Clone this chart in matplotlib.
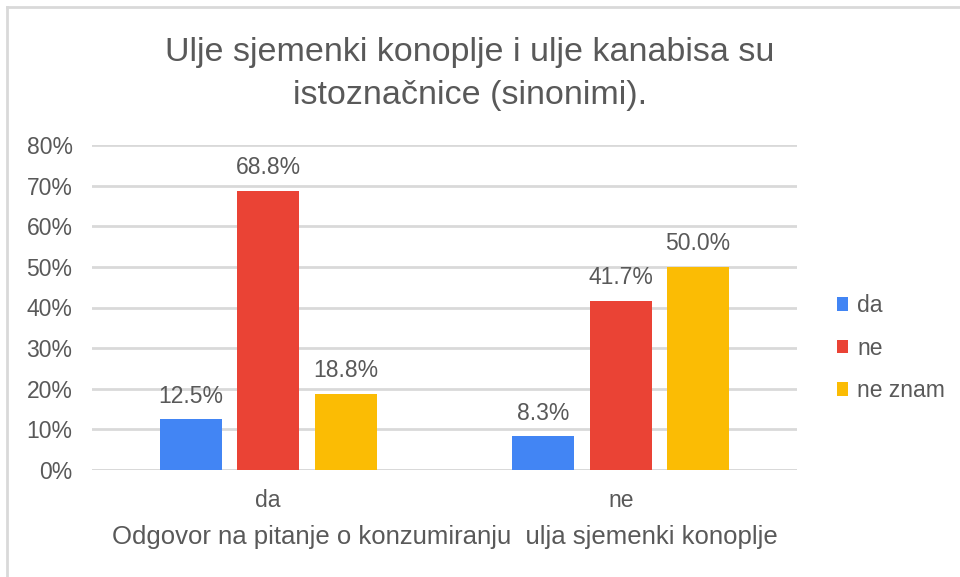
import matplotlib
matplotlib.use("Agg")
import matplotlib.pyplot as plt
import numpy as np

plt.rcParams['font.family'] = ['Liberation Sans', 'DejaVu Sans']

categories = ["da", "ne"]
series_names = ["da", "ne", "ne znam"]
values = {
    "da": [12.5, 8.3],
    "ne": [68.8, 41.7],
    "ne znam": [18.8, 50.0],
}
colors = ["#4285F4", "#EA4335", "#FBBC04"]
title = "Ulje sjemenki konoplje i ulje kanabisa su\nistoznačnice (sinonimi)."
xlabel = "Odgovor na pitanje o konzumiranju  ulja sjemenki konoplje"
yticks = [0, 10, 20, 30, 40, 50, 60, 70, 80]

text_col = "#595959"
grid_col = "#D9D9D9"
fs = 16.5

fig = plt.figure(figsize=(9.6, 5.77), dpi=100)
fig.patch.set_facecolor("white")

# outer chart frame (top and left edges visible)
fig.add_artist(plt.Line2D([7/960, 7/960], [0, 1 - 7/577], transform=fig.transFigure,
                          color="#D9D9D9", lw=2))
fig.add_artist(plt.Line2D([7/960, 1], [1 - 7/577, 1 - 7/577], transform=fig.transFigure,
                          color="#D9D9D9", lw=2))

left, right = 92/960, 797/960
bottom, top = 1 - 470/577, 1 - 145/577
ax = fig.add_axes([left, bottom, right - left, top - bottom])

x = np.arange(len(categories))
bw = 0.1756
step = 0.2195
for i, name in enumerate(series_names):
    xs = x + (i - 1) * step
    ax.bar(xs, values[name], width=bw, color=colors[i], label=name, zorder=3)
    for xi, v in zip(xs, values[name]):
        ax.text(xi, v + 2.8, f"{v:.1f}%", ha="center", va="bottom",
                fontsize=fs, color=text_col, zorder=4)

ax.set_xlim(-0.5, 1.5)
ax.set_ylim(0, 80)
ax.set_yticks(yticks)
ax.set_yticklabels([f"{t}%" for t in yticks])
ax.yaxis.grid(True, color=grid_col, lw=2, zorder=0)
ax.set_axisbelow(True)
for s in ax.spines.values():
    s.set_visible(False)
ax.tick_params(axis="y", length=0, pad=14, labelsize=fs, labelcolor=text_col)
ax.tick_params(axis="x", length=0, pad=14, labelsize=fs, labelcolor=text_col)
ax.set_xticks(x)
ax.set_xticklabels(categories)
ax.set_xlabel(xlabel, fontsize=18.5, color=text_col, labelpad=9)
ax.axhline(0, color=grid_col, lw=2, zorder=2)

fig.text(470/960, 1 - 74/577, title, ha="center", va="center", fontsize=24.5,
         color=text_col, linespacing=1.52)

ax.legend(loc="center left", bbox_to_anchor=(1.027, 0.375), frameon=False,
          fontsize=fs, handlelength=0.5, handleheight=0.5, handletextpad=0.4,
          labelspacing=0.85, labelcolor=text_col)

fig.savefig("out.png", dpi=100)
